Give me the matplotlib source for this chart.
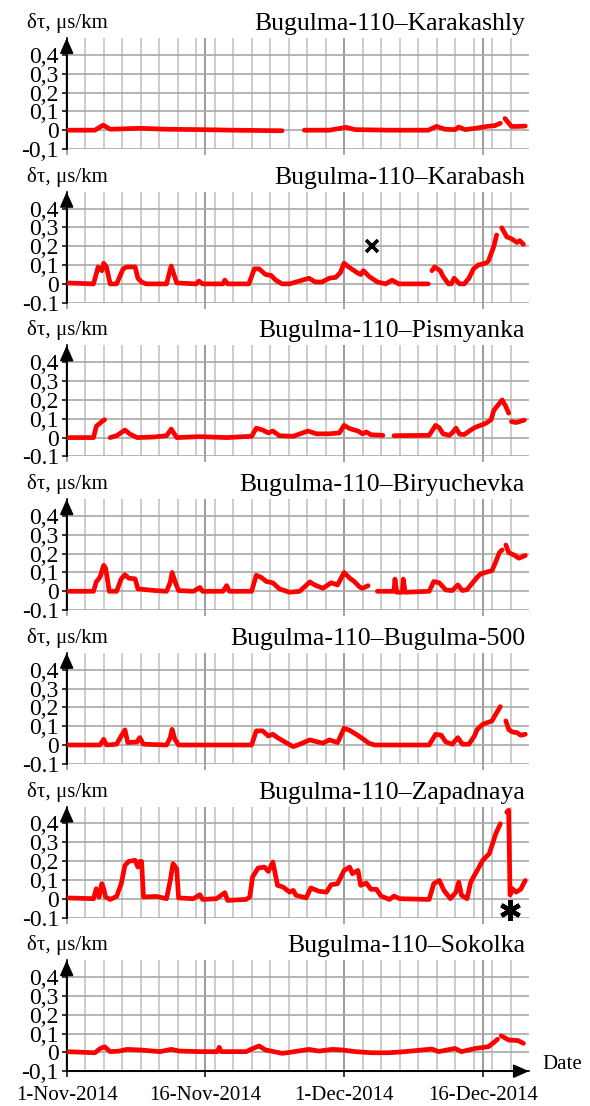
import numpy as np
import matplotlib.pyplot as plt

plt.rcParams['font.family'] = ['Liberation Serif', 'DejaVu Serif']

nan = np.nan

# day offsets from 1-Nov-2014, values in us/km (nan = gap in record)
karakashly_days = [0, 3.05, 3.95, 4.7, 7.9, 10.8, 14.4, 18.0, 23.3, 23.4,
                   25.7, 28.4, 30.2, 31.2, 34.8, 39.1, 40.0, 40.9, 42.0, 42.4,
                   43.1, 44.2, 45.6, 46.3, 46.9, 47.1, 47.4, 48.1, 48.8, 49.6]
karakashly_vals = [0.0, 0.0, 0.027, 0.005, 0.01, 0.005, 0.003, 0.0, -0.003, nan,
                   0.0, 0.0, 0.015, 0.003, 0.0, 0.0, 0.02, 0.005, 0.003, 0.017,
                   0.003, 0.01, 0.021, 0.024, 0.037, nan, 0.062, 0.02, 0.02, 0.022]

karabash_days = [0, 2.9, 3.4, 3.8, 4.0, 4.3, 4.7, 5.4, 6.1, 6.5, 7.4, 7.7, 8.1, 8.6,
                 10.8, 11.3, 11.9, 14.0, 14.3, 14.7, 16.9, 17.1, 17.4, 19.7, 20.3,
                 20.8, 21.5, 22.1, 22.6, 23.3, 24.1, 26.2, 26.9, 27.6, 28.4, 29.1,
                 29.6, 30.0, 30.5, 31.1, 31.4, 31.8, 32.1, 32.7, 33.6, 34.5, 35.2,
                 35.9, 39.1, 39.3, 39.5, 39.8, 40.4, 40.7, 41.3, 41.6, 41.9, 42.5,
                 43.0, 43.5, 44.0, 44.5, 45.3, 45.6, 46.2, 46.5, 46.8, 47.05, 47.6,
                 48.1, 48.7, 49.0, 49.4]
karabash_vals = [0.005, 0.0, 0.09, 0.07, 0.11, 0.09, 0.0, 0.0, 0.08, 0.09, 0.09, 0.03,
                 0.01, 0.0, 0.0, 0.095, 0.005, 0.0, 0.015, 0.0, 0.0, 0.02, 0.0, 0.0,
                 0.08, 0.08, 0.05, 0.045, 0.02, 0.0, 0.0, 0.03, 0.01, 0.01, 0.03,
                 0.035, 0.06, 0.11, 0.09, 0.07, 0.06, 0.05, 0.07, 0.04, 0.01, 0.0,
                 0.02, 0.0, 0.0, nan, 0.07, 0.09, 0.07, 0.04, 0.0, 0.0, 0.03, 0.0,
                 0.0, 0.03, 0.08, 0.1, 0.11, 0.12, 0.2, 0.26, nan, 0.298, 0.25,
                 0.24, 0.22, 0.23, 0.21]

pismyanka_days = [0, 2.9, 3.2, 3.8, 4.1, 4.4, 4.7, 5.4, 6.3, 6.8, 7.6, 9.4, 10.8, 11.3,
                  11.9, 14.4, 17.3, 20.0, 20.5, 21.2, 21.8, 22.3, 23.0, 24.5, 26.1,
                  27.0, 28.4, 29.5, 30.0, 30.6, 31.5, 32.0, 32.4, 32.9, 34.2, 34.8,
                  35.4, 39.2, 39.9, 40.3, 40.7, 41.4, 41.7, 42.1, 42.5, 43.0, 43.7,
                  44.2, 45.3, 45.9, 46.2, 46.6, 47.1, 47.5, 47.8, 47.95, 48.1, 48.6,
                  49.5]
pismyanka_vals = [0.0, 0.0, 0.06, 0.085, 0.095, nan, 0.0, 0.01, 0.04, 0.02, 0.0, 0.003,
                  0.01, 0.045, 0.0, 0.005, 0.0, 0.007, 0.05, 0.04, 0.025, 0.035,
                  0.01, 0.007, 0.035, 0.02, 0.02, 0.025, 0.065, 0.048, 0.035, 0.02,
                  0.03, 0.015, 0.012, nan, 0.01, 0.012, 0.065, 0.052, 0.02, 0.012,
                  0.025, 0.05, 0.018, 0.016, 0.04, 0.055, 0.075, 0.095, 0.145, 0.17,
                  0.2, 0.165, 0.13, nan, 0.085, 0.08, 0.093]

biryuchevka_days = [0, 2.9, 3.2, 3.6, 4.0, 4.2, 4.4, 4.6, 5.4, 5.9, 6.3, 6.7, 7.4, 7.7,
                    9.5, 10.8, 11.2, 11.4, 11.8, 12.1, 13.7, 14.4, 14.7, 16.9, 17.3,
                    17.6, 20.0, 20.5, 21.0, 21.6, 22.3, 23.0, 24.1, 25.2, 26.3, 26.8,
                    27.7, 28.6, 29.3, 30.0, 30.6, 31.1, 31.7, 32.0, 32.6, 33.1, 33.6,
                    35.4, 35.5, 35.7, 36.3, 36.4, 36.6, 39.2, 39.7, 40.3, 41.0, 41.7,
                    42.3, 42.8, 43.3, 43.9, 44.4, 44.8, 46.0, 46.4, 46.8, 47.1, 47.3,
                    47.5, 47.8, 48.4, 48.9, 49.6]
biryuchevka_vals = [0.0, 0.0, 0.05, 0.075, 0.138, 0.124, 0.066, 0.0, 0.0, 0.066, 0.088,
                    0.07, 0.066, 0.013, 0.004, 0.0, 0.048, 0.1, 0.04, 0.004, 0.0,
                    0.02, 0.0, 0.0, 0.03, 0.0, 0.0, 0.085, 0.075, 0.052, 0.045, 0.013,
                    -0.005, 0.0, 0.05, 0.034, 0.016, 0.045, 0.034, 0.1, 0.07, 0.052,
                    0.022, 0.016, 0.03, nan, 0.0, 0.0, 0.065, -0.005, -0.005, 0.065,
                    -0.005, 0.0, 0.052, 0.045, 0.007, 0.004, 0.034, 0.004, 0.009,
                    0.045, 0.075, 0.093, 0.11, 0.156, 0.206, 0.22, nan, 0.246, 0.206,
                    0.192, 0.176, 0.19]

bugulma500_days = [0, 3.6, 4.0, 4.3, 5.4, 5.9, 6.3, 6.6, 7.6, 7.9, 8.3, 10.8, 11.2, 11.4,
                   11.7, 12.1, 17.3, 20.0, 20.5, 21.2, 21.8, 22.3, 22.8, 23.7, 24.5,
                   25.2, 26.3, 27.7, 28.4, 29.3, 30.0, 30.6, 31.3, 32.0, 32.7, 33.3,
                   39.2, 39.9, 40.5, 41.0, 41.7, 42.3, 42.8, 43.5, 44.1, 44.4, 45.0,
                   46.0, 46.4, 46.9, 47.2, 47.5, 47.8, 48.2, 48.7, 49.1, 49.6]
bugulma500_vals = [0.0, 0.0, 0.03, 0.0, 0.004, 0.048, 0.08, 0.013, 0.016, 0.039, 0.004,
                   0.0, 0.039, 0.083, 0.03, 0.0, 0.0, 0.0, 0.075, 0.075, 0.048,
                   0.057, 0.039, 0.013, -0.009, 0.004, 0.027, 0.009, 0.027, 0.013,
                   0.089, 0.078, 0.057, 0.034, 0.009, 0.0, 0.0, 0.057, 0.052, 0.016,
                   0.004, 0.039, 0.004, 0.004, 0.048, 0.083, 0.11, 0.128, 0.163,
                   0.204, nan, 0.128, 0.083, 0.069, 0.066, 0.052, 0.057]

zapadnaya_days = [0, 2.9, 3.2, 3.5, 3.8, 4.0, 4.2, 4.7, 5.4, 5.9, 6.3, 6.7, 7.4, 7.7,
                  7.9, 8.1, 8.3, 9.7, 10.8, 11.2, 11.5, 11.9, 12.1, 13.7, 14.4, 14.7,
                  16.2, 17.1, 17.4, 19.4, 19.8, 20.1, 20.7, 21.4, 21.8, 22.3, 22.8,
                  23.4, 24.1, 24.5, 24.8, 25.9, 26.4, 27.3, 28.1, 28.6, 29.3, 30.0,
                  30.6, 30.9, 31.5, 31.8, 32.4, 32.9, 33.5, 34.0, 34.9, 35.4, 36.0,
                  39.2, 39.7, 40.3, 40.8, 41.5, 42.1, 42.4, 42.7, 43.3, 43.7, 44.2,
                  44.6, 45.0, 45.7, 46.0, 46.4, 46.9, 47.2, 47.6, 47.8, 47.95, 48.2,
                  48.6, 49.1, 49.6]
zapadnaya_vals = [0.004, 0.0, 0.053, 0.009, 0.08, 0.053, 0.009, -0.004, 0.012, 0.08,
                  0.177, 0.198, 0.204, 0.168, 0.198, 0.198, 0.009, 0.012, 0.0, 0.097,
                  0.186, 0.159, 0.004, 0.0, 0.021, -0.004, 0.0, 0.032, -0.009,
                  -0.004, 0.009, 0.115, 0.163, 0.168, 0.145, 0.195, 0.071, 0.062,
                  0.035, 0.044, 0.018, 0.004, 0.057, 0.039, 0.035, 0.074, 0.08, 0.15,
                  0.168, 0.133, 0.15, 0.071, 0.083, 0.05, 0.05, 0.014, -0.004, 0.014,
                  0.0, -0.004, 0.08, 0.097, 0.044, 0.0, 0.035, 0.088, 0.018, 0.0,
                  0.088, 0.133, 0.168, 0.204, 0.239, 0.283, 0.345, 0.398, nan, 0.46,
                  0.47, 0.02, 0.053, 0.035, 0.05, 0.097]

sokolka_days = [0, 3.05, 3.6, 4.1, 4.7, 5.7, 6.5, 7.9, 10.1, 11.3, 12.2, 14.4, 16.3,
                16.5, 16.7, 19.4, 20.1, 20.8, 21.5, 23.3, 24.1, 26.2, 27.3, 28.7,
                29.8, 31.2, 33.0, 34.8, 36.6, 39.5, 40.2, 42.0, 42.7, 44.2, 45.6,
                46.3, 46.6, 46.8, 47.0, 47.8, 48.8, 49.4]
sokolka_vals = [0.004, -0.002, 0.02, 0.03, 0.004, 0.007, 0.016, 0.013, 0.004, 0.016,
                0.007, 0.004, 0.004, 0.027, 0.004, 0.004, 0.02, 0.034, 0.013, -0.005,
                0.0, 0.016, 0.007, 0.016, 0.013, 0.004, -0.002, -0.002, 0.004, 0.018,
                0.004, 0.021, 0.004, 0.021, 0.03, 0.057, 0.07, nan, 0.088, 0.066,
                0.063, 0.048]

titles = ['Bugulma-110\u2013Karakashly', 'Bugulma-110\u2013Karabash',
          'Bugulma-110\u2013Pismyanka', 'Bugulma-110\u2013Biryuchevka',
          'Bugulma-110\u2013Bugulma-500', 'Bugulma-110\u2013Zapadnaya',
          'Bugulma-110\u2013Sokolka']
series = [(karakashly_days, karakashly_vals), (karabash_days, karabash_vals),
          (pismyanka_days, pismyanka_vals), (biryuchevka_days, biryuchevka_vals),
          (bugulma500_days, bugulma500_vals), (zapadnaya_days, zapadnaya_vals),
          (sokolka_days, sokolka_vals)]

y_ticks = [-0.1, 0, 0.1, 0.2, 0.3, 0.4]
date_ticks = [0, 15, 30, 45]
date_labels = ['1-Nov-2014', '16-Nov-2014', '1-Dec-2014', '16-Dec-2014']

cross_day, cross_val = 33.0, 0.2        # x mark on Karabash
star_day, star_val = 47.9, -0.06        # asterisk on Zapadnaya


def main():
    W, H = 590, 1106
    fig = plt.figure(figsize=(W / 100, H / 100), dpi=100)
    left, right = 66.7, 529.0
    step = 153.7
    n = len(series)
    axes = []
    for i in range(n):
        top = 38 + i * step
        bot = 149 + i * step
        ax = fig.add_axes([left / W, 1 - bot / H, (right - left) / W, (bot - top) / H])
        axes.append(ax)
        last = (i == n - 1)

        ax.set_xlim(0, 50)
        ax.set_ylim(-0.1, 0.49)
        ax.set_xticks(date_ticks)
        ax.set_xticks(np.arange(0, 50, 2), minor=True)
        ax.set_yticks(y_ticks)
        neg = '-0,1' if i in (0, n - 1) else '-0.1'
        ax.set_yticklabels([neg, '0', '0,1', '0,2', '0,3', '0,4'], fontsize=17)
        ax.grid(which='minor', axis='x', color='#c4c4c4', lw=1.2)
        ax.grid(which='major', axis='x', color='#8a8a8a', lw=1.2)
        ax.grid(which='major', axis='y', color='#a8a8a8', lw=1.2)
        ax.set_axisbelow(True)

        for s in ['top', 'right']:
            ax.spines[s].set_visible(False)
        ax.spines['left'].set_linewidth(1.2)
        ax.tick_params(axis='y', direction='out', length=3.6, width=1.1, pad=2,
                       color='k')
        ax.tick_params(axis='x', which='minor', length=0)
        if last:
            ax.spines['bottom'].set_linewidth(1.2)
            ax.tick_params(axis='x', which='major', direction='out', length=4.3,
                           width=1.1, color='k', pad=6, labelsize=15)
            ax.set_xticklabels(date_labels)
            ax.annotate('', xy=(1.0, 0), xycoords='axes fraction', xytext=(0, 0),
                        arrowprops=dict(arrowstyle='-|>,head_length=0.95,head_width=0.42',
                                        mutation_scale=10, lw=1.2, color='k',
                                        shrinkA=0, shrinkB=0))
            ax.annotate('Date', xy=(1, 0), xycoords='axes fraction',
                        xytext=(13, 2), textcoords='offset pixels',
                        ha='left', va='baseline', fontsize=15)
        else:
            ax.spines['bottom'].set_visible(False)
            ax.tick_params(axis='x', which='major', direction='out', length=4.3,
                           width=1.1, color='#8a8a8a', labelbottom=False)

        ax.annotate('', xy=(0, 1.0), xycoords='axes fraction', xytext=(0, 0),
                    arrowprops=dict(arrowstyle='-|>,head_length=0.95,head_width=0.42',
                                    mutation_scale=10, lw=1.2, color='k',
                                    shrinkA=0, shrinkB=0))

        days, vals = series[i]
        ax.plot(days, vals, color='#ff0000', lw=3.4, solid_capstyle='round',
                solid_joinstyle='round', zorder=3)

        ax.annotate('\u03b4\u03c4, \u03bcs/km', xy=(0, 1), xycoords='axes fraction',
                    xytext=(-40, 10), textcoords='offset pixels',
                    ha='left', va='baseline', fontsize=15)
        ax.annotate(titles[i], xy=(1, 1), xycoords='axes fraction',
                    xytext=(-4, 8), textcoords='offset pixels',
                    ha='right', va='baseline', fontsize=18.5)

    axes[1].plot([cross_day], [cross_val], marker='x', color='k', ms=9, mew=2.6,
                 zorder=4)
    axes[5].plot([star_day], [star_val], marker=(6, 2, 0), color='k', ms=15, mew=3.2,
                 zorder=4, clip_on=False)

    fig.savefig('out.png', dpi=100, facecolor='white')


if __name__ == "__main__":
    main()
